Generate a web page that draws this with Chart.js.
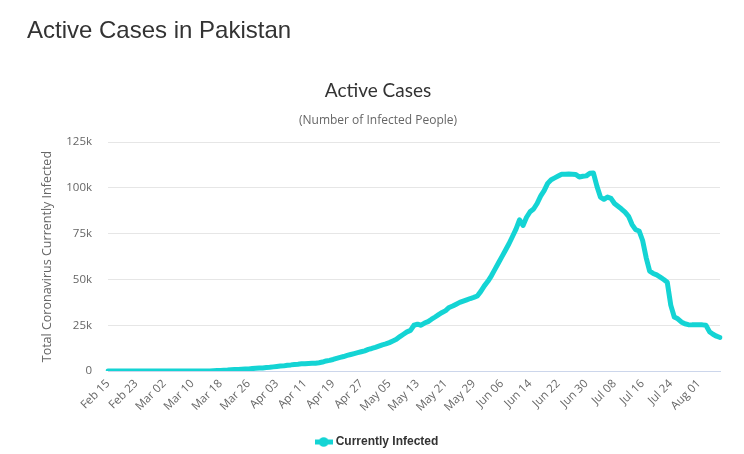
<!DOCTYPE html>
<html>
<head>
<meta charset="utf-8">
<script src="https://cdn.jsdelivr.net/npm/chart.js@4/dist/chart.umd.min.js"></script>
<style>
  html, body { margin: 0; padding: 0; background: #ffffff; }
  #page-title { position: absolute; left: 27px; top: 16px; font-family: "Liberation Sans", Arial, sans-serif; font-size: 24px; color: #333333; white-space: nowrap; }
  #wrap { position: absolute; left: 0; top: 0; width: 744px; height: 454px; }
</style>
</head>
<body>
<div id="wrap"><canvas id="c" width="744" height="454"></canvas></div>
<div id="page-title">Active Cases in Pakistan</div>
<script>
const categories = [
  "Feb 15","Feb 16","Feb 17","Feb 18","Feb 19","Feb 20","Feb 21","Feb 22","Feb 23","Feb 24","Feb 25","Feb 26","Feb 27","Feb 28","Feb 29",
  "Mar 01","Mar 02","Mar 03","Mar 04","Mar 05","Mar 06","Mar 07","Mar 08","Mar 09","Mar 10","Mar 11","Mar 12","Mar 13","Mar 14","Mar 15","Mar 16","Mar 17","Mar 18","Mar 19","Mar 20","Mar 21","Mar 22","Mar 23","Mar 24","Mar 25","Mar 26","Mar 27","Mar 28","Mar 29","Mar 30","Mar 31",
  "Apr 01","Apr 02","Apr 03","Apr 04","Apr 05","Apr 06","Apr 07","Apr 08","Apr 09","Apr 10","Apr 11","Apr 12","Apr 13","Apr 14","Apr 15","Apr 16","Apr 17","Apr 18","Apr 19","Apr 20","Apr 21","Apr 22","Apr 23","Apr 24","Apr 25","Apr 26","Apr 27","Apr 28","Apr 29","Apr 30",
  "May 01","May 02","May 03","May 04","May 05","May 06","May 07","May 08","May 09","May 10","May 11","May 12","May 13","May 14","May 15","May 16","May 17","May 18","May 19","May 20","May 21","May 22","May 23","May 24","May 25","May 26","May 27","May 28","May 29","May 30","May 31",
  "Jun 01","Jun 02","Jun 03","Jun 04","Jun 05","Jun 06","Jun 07","Jun 08","Jun 09","Jun 10","Jun 11","Jun 12","Jun 13","Jun 14","Jun 15","Jun 16","Jun 17","Jun 18","Jun 19","Jun 20","Jun 21","Jun 22","Jun 23","Jun 24","Jun 25","Jun 26","Jun 27","Jun 28","Jun 29","Jun 30",
  "Jul 01","Jul 02","Jul 03","Jul 04","Jul 05","Jul 06","Jul 07","Jul 08","Jul 09","Jul 10","Jul 11","Jul 12","Jul 13","Jul 14","Jul 15","Jul 16","Jul 17","Jul 18","Jul 19","Jul 20","Jul 21","Jul 22","Jul 23","Jul 24","Jul 25","Jul 26","Jul 27","Jul 28","Jul 29","Jul 30","Jul 31",
  "Aug 01","Aug 02","Aug 03","Aug 04","Aug 05","Aug 06","Aug 07"
];

const tickLabels = ["Feb 15","Feb 23","Mar 02","Mar 10","Mar 18","Mar 26","Apr 03","Apr 11","Apr 19","Apr 27","May 05","May 13","May 21","May 29","Jun 06","Jun 14","Jun 22","Jun 30","Jul 08","Jul 16","Jul 24","Aug 01"];

const yTicks = [0, 25000, 50000, 75000, 100000, 125000];
const yTickLabels = ["0", "25k", "50k", "75k", "100k", "125k"];

const currentlyInfected = [
  0,0,0,0,0,0,0,0,0,0,0,2,2,2,4,
  4,5,5,6,6,6,6,6,6,16,19,20,28,31,52,183,235,299,448,493,637,771,868,955,1039,1146,1311,1458,1597,1683,1852,
  2003,2245,2479,2689,2800,3163,3336,3600,3700,3900,4000,4150,4200,4250,4500,4900,5500,5800,6300,6900,7400,7900,8500,9000,9500,10000,10500,11000,11800,12300,
  12900,13600,14300,14800,15500,16400,17300,18800,20100,21400,22200,25000,25600,25000,26200,27000,28300,29500,30800,32000,33000,34700,35500,36500,37500,38200,38900,39600,40200,41000,43500,
  46500,49000,52000,55500,59000,62500,66000,69500,73500,77500,82600,79500,84000,87000,88500,91500,95500,98500,102500,104500,105500,106500,107500,107500,107600,107500,107400,106000,106400,106600,
  108000,108200,101000,95000,93800,95000,94300,91500,90000,88500,86800,84500,80000,77200,76500,71300,62000,54500,53300,52500,51300,50000,48500,36000,29500,28500,26800,25800,25300,25200,25200,
  25200,25200,25000,21500,20100,19000,18300
];

const lineColor = "#14d4d4";

function makeLegendSymbol() {
  const cv = document.createElement("canvas");
  cv.width = 18; cv.height = 10;
  const g = cv.getContext("2d");
  g.strokeStyle = lineColor;
  g.lineWidth = 5;
  g.beginPath(); g.moveTo(0, 5); g.lineTo(18, 5); g.stroke();
  g.fillStyle = lineColor;
  g.beginPath(); g.arc(9, 5, 4.8, 0, Math.PI * 2); g.fill();
  return cv;
}

new Chart(document.getElementById("c"), {
  type: "line",
  data: {
    labels: categories,
    datasets: [{
      label: "Currently Infected",
      data: currentlyInfected,
      borderColor: lineColor,
      backgroundColor: lineColor,
      borderWidth: 5,
      pointRadius: 0,
      pointHoverRadius: 0,
      tension: 0,
      borderJoinStyle: "round",
      borderCapStyle: "round",
      fill: false
    }]
  },
  options: {
    responsive: false,
    animation: false,
    events: [],
    layout: { padding: { top: 0, left: 36, right: 24, bottom: -4 } },
    plugins: {
      title: {
        display: true,
        text: "Active Cases",
        color: "#333333",
        font: { family: "Lato, 'Open Sans', sans-serif", size: 19, weight: "normal" },
        padding: { top: 79, bottom: 0 }
      },
      subtitle: {
        display: true,
        text: "(Number of Infected People)",
        color: "#666666",
        font: { family: "'Open Sans', sans-serif", size: 12, weight: "normal" },
        padding: { top: 12, bottom: 14 }
      },
      legend: {
        display: true,
        position: "bottom",
        labels: {
          usePointStyle: true,
          pointStyle: makeLegendSymbol(),
          color: "#333333",
          font: { family: "'Liberation Sans', Arial, sans-serif", size: 12, weight: "bold" },
          padding: 4
        }
      },
      tooltip: { enabled: false }
    },
    scales: {
      x: {
        type: "category",
        offset: false,
        grid: { display: false, drawTicks: false },
        border: { display: true, color: "#ccd6eb", width: 1 },
        ticks: {
          autoSkip: false,
          minRotation: 45,
          maxRotation: 45,
          padding: 6,
          color: "#666666",
          font: { family: "'Open Sans', sans-serif", size: 11.5 },
          callback: function (value) {
            const lab = this.getLabelForValue(value);
            return tickLabels.includes(lab) ? lab : "";
          }
        },
        afterFit: function (scale) { scale.height = 61; }
      },
      y: {
        min: 0,
        max: 125000,
        afterBuildTicks: function (scale) { scale.ticks = yTicks.map(v => ({ value: v })); },
        grid: {
          drawTicks: false,
          color: function (ctx) { return ctx.tick && ctx.tick.value === 0 ? "#ccd6eb" : "#e6e6e6"; },
          lineWidth: 1
        },
        border: { display: false },
        ticks: {
          padding: 16,
          color: "#666666",
          font: { family: "'Open Sans', sans-serif", size: 11.5 },
          callback: function (value) { return yTickLabels[yTicks.indexOf(value)]; }
        },
        title: {
          display: true,
          text: "Total Coronavirus Currently Infected",
          color: "#666666",
          font: { family: "'Open Sans', sans-serif", size: 12.5 },
          padding: { top: 4, bottom: 0 }
        },
        afterFit: function (scale) { scale.width = 72; }
      }
    }
  }
});
</script>
</body>
</html>
